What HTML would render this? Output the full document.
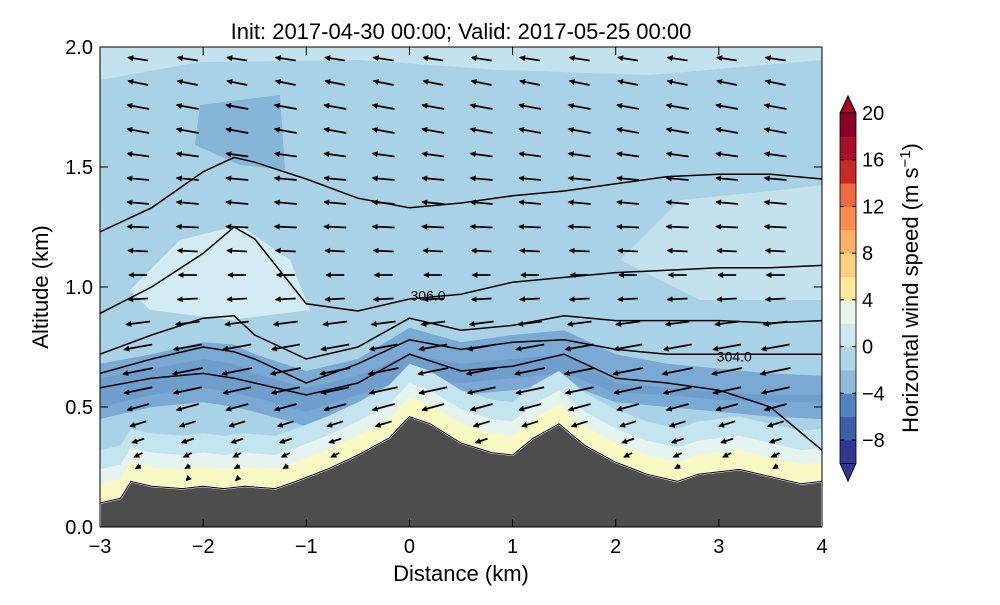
<!DOCTYPE html>
<html><head><meta charset="utf-8"><style>
body{margin:0;background:#fff;font-family:"Liberation Sans","DejaVu Sans",sans-serif}
</style></head><body>
<svg id="chart" width="1000" height="600" xmlns="http://www.w3.org/2000/svg">
<defs><clipPath id="pc"><rect x="100" y="47" width="722" height="480"/></clipPath>
<marker id="ah" markerWidth="6" markerHeight="6" refX="5" refY="3" orient="auto" markerUnits="userSpaceOnUse"><path d="M0,0 L6,3 L0,6 z" fill="#000"/></marker></defs>
<g id="plot" clip-path="url(#pc)"></g>
<g id="axes"></g>
<g id="cbar"></g>
</svg>
<script>
const terrainX=[-3,-2.8,-2.7,-2.5,-2.2,-2,-1.8,-1.6,-1.3,-1.1,-0.8,-0.5,-0.2,0,0.2,0.5,0.8,1,1.2,1.45,1.7,2,2.3,2.6,2.8,3.2,3.5,3.8,4];
const terrainZ=[0.1,0.12,0.19,0.17,0.16,0.17,0.16,0.17,0.16,0.19,0.24,0.3,0.37,0.46,0.43,0.35,0.31,0.3,0.37,0.43,0.34,0.27,0.22,0.19,0.22,0.24,0.21,0.18,0.19];
const lineX=[-3,-2.5,-2,-1.7,-1.5,-1,-0.5,0,0.5,1,1.5,2,2.5,3,3.5,4];
const theta1=[1.23,1.33,1.48,1.54,1.52,1.45,1.37,1.33,1.35,1.38,1.40,1.43,1.46,1.47,1.47,1.45];
const theta2=[0.89,1.0,1.14,1.25,1.2,0.93,0.9,0.95,0.97,1.02,1.04,1.06,1.07,1.08,1.08,1.09];
const theta3=[0.72,0.8,0.87,0.88,0.8,0.7,0.75,0.87,0.82,0.84,0.88,0.86,0.86,0.86,0.85,0.86];
const theta4=[0.64,0.7,0.75,0.73,0.7,0.6,0.68,0.78,0.74,0.77,0.78,0.74,0.72,0.72,0.72,0.72];
const theta5=[0.58,0.62,0.64,0.62,0.6,0.55,0.6,0.72,0.65,0.67,0.72,0.62,0.6,0.57,0.5,0.32];
const arrowCols=[-2.63,-2.15,-1.67,-1.2,-0.72,-0.25,0.23,0.7,1.17,1.65,2.12,2.6,3.08,3.55];
const arrowRowsZ=[1.95,1.85,1.75,1.65,1.55,1.45,1.35,1.25,1.15,1.05,0.95,0.85,0.75,0.65,0.57,0.5,0.43,0.36,0.3,0.25,0.2];
const arrowU=[-20,-20,-22,-22,-22,-22,-22,-22,-20,-18,-20,-24,-28,-30,-28,-22,-16,-12,-8,-5,-3];
const arrowV=[1.5,2,2,2,1.5,1,1,0.5,0.5,0,-0.5,-1.5,-2.5,-3,-3,-3,-2.5,-2,-2,-1.5,-1.5];
const cbTicks=[20,16,12,8,4,0,-4,-8];
const xTicks=[-3,-2,-1,0,1,2,3,4];
const yTicks=[0.0,0.5,1.0,1.5,2.0];
const NS="http://www.w3.org/2000/svg";
const X=v=>100+(v+3)*722/7, Y=v=>527-v*240;
function el(t,a,p){const e=document.createElementNS(NS,t);for(const k in a)e.setAttribute(k,a[k]);p.appendChild(e);return e;}
const plot=document.getElementById('plot'),axes=document.getElementById('axes'),cb=document.getElementById('cbar');
function path(xs,zs){return xs.map((x,i)=>(i?'L':'M')+X(x).toFixed(1)+','+Y(zs[i]).toFixed(1)).join(' ');}
let b=el('rect',{x:100,y:47,width:722,height:480,fill:'#a9d2e6'},plot);

let p1=el('path',{d:'M100,47 L822,47 L822,60 L650,75 L500,70 L360,60 L200,62 L100,80 z',fill:'#c3e2ee'},plot);

let p2=el('path',{d:'M130,290 L180,240 L240,225 L290,260 L310,310 L230,320 L150,310 z',fill:'#d3ebf3'},plot);

let p3=el('path',{d:'M620,260 L680,200 L780,190 L822,185 L822,300 L700,300 z',fill:'#c3e2ee'},plot);

let p4=el('path',{d:'M195,145 L200,105 L280,95 L285,170 L240,165 z',fill:'#86b5d8'},plot);

const bandTop=[0.68,0.72,0.77,0.76,0.72,0.65,0.7,0.83,0.77,0.8,0.82,0.72,0.68,0.66,0.64,0.63];
const bandBot=[0.45,0.5,0.52,0.5,0.48,0.42,0.5,0.58,0.55,0.57,0.6,0.52,0.5,0.48,0.46,0.45];
let d='M'+lineX.map((x,i)=>X(x)+','+Y(bandTop[i])).join(' L')+' L'+lineX.slice().reverse().map((x,i)=>X(x)+','+Y(bandBot[bandBot.length-1-i])).join(' L')+' z';
let bd=el('path',{d:d,fill:'#7aaad3'},plot);

const coreT=[0.62,0.66,0.7,0.68,0.64,0.58,0.63,0.72,0.68,0.7,0.72,0.6,0.58,0.56,0.55,0.55];
const coreB=[0.5,0.55,0.58,0.56,0.54,0.48,0.55,0.62,0.6,0.62,0.64,0.56,0.55,0.53,0.52,0.52];
d='M'+lineX.map((x,i)=>X(x)+','+Y(coreT[i])).join(' L')+' L'+lineX.slice().reverse().map((x,i)=>X(x)+','+Y(coreB[coreB.length-1-i])).join(' L')+' z';
let cd=el('path',{d:d,fill:'#6f9ecd'},plot);

const layers=[[0.22,'#c4e4ef'],[0.14,'#e6f4f0'],[0.08,'#f8f9c2']];
layers.forEach(([off,c])=>{
  const dd='M'+terrainX.map((x,i)=>X(x)+','+Y(terrainZ[i]+off)).join(' L')+' L822,527 L100,527 z';
  const e=el('path',{d:dd,fill:c},plot);
  
});
[theta1,theta2,theta3,theta4,theta5].forEach(t=>{
  const e=el('path',{d:path(lineX,t),fill:'none',stroke:'#000','stroke-width':1.5},plot);
  
});
function tz(x){for(let i=1;i<terrainX.length;i++){if(x<=terrainX[i]){const f=(x-terrainX[i-1])/(terrainX[i]-terrainX[i-1]);return terrainZ[i-1]+f*(terrainZ[i]-terrainZ[i-1]);}}return 0.19;}
arrowCols.forEach(cx=>{arrowRowsZ.forEach((z,j)=>{
  if(z<tz(cx)+0.03)return;
  const u=arrowU[j],v=arrowV[j];
  const a=el('line',{x1:(X(cx)-u*0.5).toFixed(1),y1:(Y(z)+v).toFixed(1),x2:(X(cx)+u*0.5).toFixed(1),y2:(Y(z)-v).toFixed(1),stroke:'#000','stroke-width':1.8,'marker-end':'url(#ah)'},plot);
  
});});
let tr=el('path',{d:path(terrainX,terrainZ)+' L822,530 L100,530 z',fill:'#4d4d4d',stroke:'#fff','stroke-width':2},plot);

el('path',{d:path(terrainX,terrainZ),fill:'none',stroke:'#000','stroke-width':1},plot);
[[X(0.18),Y(0.965),'306.0'],[X(3.15),Y(0.71),'304.0']].forEach(([x,y,t])=>{
  const e=el('text',{x:x,y:y+5,'font-size':14,'text-anchor':'middle',fill:'#000'},plot);e.textContent=t;
  
});
let fr=el('rect',{x:100,y:47,width:722,height:480,fill:'none',stroke:'#000','stroke-width':1},axes);

xTicks.forEach(v=>{el('line',{x1:X(v),x2:X(v),y1:527,y2:519,stroke:'#000'},axes);el('line',{x1:X(v),x2:X(v),y1:47,y2:55,stroke:'#000'},axes);
  const t=el('text',{x:X(v),y:553,'font-size':20,'text-anchor':'middle'},axes);t.textContent=(v<0?'\u2212'+(-v):v);
  });
yTicks.forEach(v=>{el('line',{x1:100,x2:108,y1:Y(v),y2:Y(v),stroke:'#000'},axes);el('line',{x1:822,x2:814,y1:Y(v),y2:Y(v),stroke:'#000'},axes);
  const t=el('text',{x:93,y:Y(v)+7,'font-size':20,'text-anchor':'end'},axes);t.textContent=v.toFixed(1);
  });
let xt=el('text',{x:461,y:581,'font-size':22,'text-anchor':'middle'},axes);xt.textContent='Distance (km)';

let yt=el('text',{x:48,y:287,'font-size':22,'text-anchor':'middle',transform:'rotate(-90 48 287)'},axes);yt.textContent='Altitude (km)';

let ti=el('text',{x:461,y:39,'font-size':22,'text-anchor':'middle'},axes);ti.textContent='Init: 2017-04-30 00:00; Valid: 2017-05-25 00:00';

const CY=v=>440-(v+8)*327/28;
const cols=['#313695','#3e5ea8','#5083bd','#6c9fca','#8fbcda','#b0d6e8','#cfe8f0','#e9f5ec','#fbfbc6','#fee99a','#fed080','#fdb265','#f98f52','#ef6a41','#db4530','#c52a27','#a8112a','#8c0026'];
const cbLevels=[-10,-8,-6,-4,-2,0,2,4,6,8,10,12,14,16,18,20];
for(let i=0;i<cbLevels.length-1;i++){
  const c=cols[Math.round(i*(cols.length-1)/(cbLevels.length-2))];
  const r=el('rect',{x:840,y:CY(cbLevels[i+1]),width:16,height:CY(cbLevels[i])-CY(cbLevels[i+1])+0.5,fill:c},cb);
  
}
let tt=el('path',{d:`M840,${CY(20)} L848,96 L856,${CY(20)} z`,fill:'#a50026',stroke:'#000','stroke-width':0.8},cb);

let tb=el('path',{d:`M840,${CY(-10)} L848,481 L856,${CY(-10)} z`,fill:'#313695',stroke:'#000','stroke-width':0.8},cb);

el('path',{d:`M840,${CY(20)} L848,96 L856,${CY(20)} L856,${CY(-10)} L848,481 L840,${CY(-10)} z`,fill:'none',stroke:'#000','stroke-width':0.8},cb);
cbTicks.forEach(v=>{el('line',{x1:840,x2:844,y1:CY(v),y2:CY(v),stroke:'#000'},cb);el('line',{x1:852,x2:856,y1:CY(v),y2:CY(v),stroke:'#000'},cb);
  const t=el('text',{x:862,y:CY(v)+7,'font-size':20},cb);t.textContent=(v<0?'\u2212'+(-v):v);
  });
let ct=el('text',{x:918,y:288,'font-size':22,'text-anchor':'middle',transform:'rotate(-90 918 288)'},cb);
ct.innerHTML='Horizontal wind speed (m s<tspan dy="-8" font-size="15">\u22121</tspan><tspan dy="8">)</tspan>';

</script>
</body></html>
